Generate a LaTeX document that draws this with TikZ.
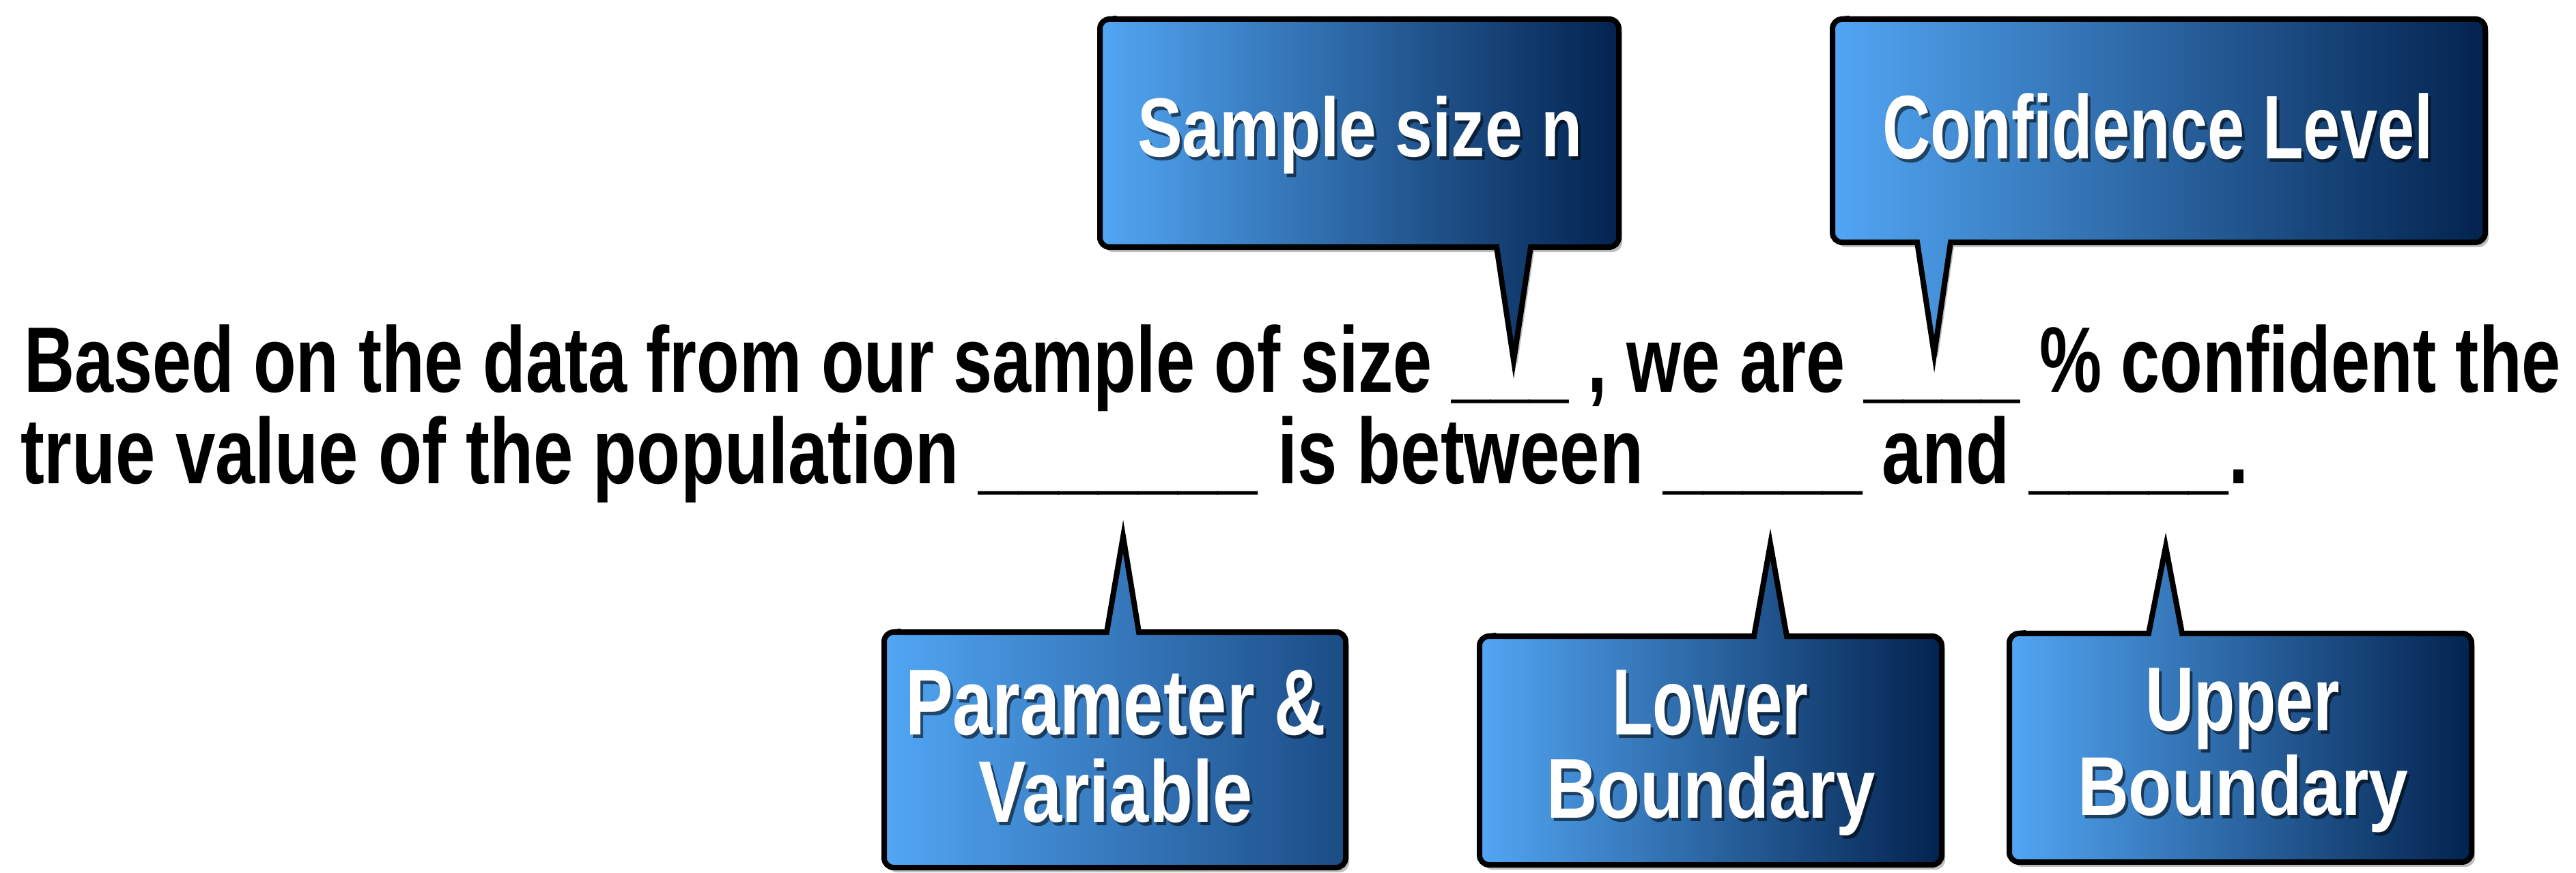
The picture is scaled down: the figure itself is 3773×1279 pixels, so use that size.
\documentclass[tikz,border=0pt]{standalone}
\usepackage{fontspec}
\usepackage{graphicx}
\setmainfont{Liberation Sans}
\definecolor{cLight}{HTML}{52A6F4}
\definecolor{cDark}{HTML}{03234F}
\definecolor{cMid}{HTML}{1B4C86}
\tikzset{
  cbox/.style={line width=0.08cm, draw=black, line join=miter},
  blurb/.style={inner sep=0pt, outer sep=0pt, font=\bfseries},
}
% L T R B b1 b2 tipx tipy  (tail below the box)
\newcommand\pathdown[8]{({#1+14},#2) -- ({#3-14},#2) arc[start angle=90,end angle=0,radius=0.14cm] -- (#3,{#4-14}) arc[start angle=0,end angle=-90,radius=0.14cm] -- (#6,#4) -- (#7,#8) -- (#5,#4) -- ({#1+14},#4) arc[start angle=270,end angle=180,radius=0.14cm] -- (#1,{#2+14}) arc[start angle=180,end angle=90,radius=0.14cm] -- cycle}
% tail above the box
\newcommand\pathup[8]{({#1+14},#2) -- (#5,#2) -- (#7,#8) -- (#6,#2) -- ({#3-14},#2) arc[start angle=90,end angle=0,radius=0.14cm] -- (#3,{#4-14}) arc[start angle=0,end angle=-90,radius=0.14cm] -- ({#1+14},#4) arc[start angle=270,end angle=180,radius=0.14cm] -- (#1,{#2+14}) arc[start angle=180,end angle=90,radius=0.14cm] -- cycle}
\newcommand\calloutdown[9]{%
  \fill[black,opacity=0.25,shift={(5,7)}] \pathdown{#1}{#2}{#3}{#4}{#5}{#6}{#7}{#8};
  \draw[cbox,left color=cLight,right color=#9] \pathdown{#1}{#2}{#3}{#4}{#5}{#6}{#7}{#8};
}
\newcommand\calloutup[9]{%
  \fill[black,opacity=0.25,shift={(5,7)}] \pathup{#1}{#2}{#3}{#4}{#5}{#6}{#7}{#8};
  \draw[cbox,left color=cLight,right color=#9] \pathup{#1}{#2}{#3}{#4}{#5}{#6}{#7}{#8};
}
% name, left x, bottom y, width, total height, text
\newcommand\btext[6]{%
  \node[blurb,anchor=south west,text=black,opacity=0.55] at ({#2+4},{#3+5}) {\resizebox*{#4}{#5}{#6}};
  \node[blurb,anchor=south west,text=white] (#1) at (#2,#3) {\resizebox*{#4}{#5}{#6}};
}
\begin{document}
\begin{tikzpicture}[x=0.01cm,y=-0.01cm]
\useasboundingbox (0,0) rectangle (3773,1279);
\fill[white] (0,0) rectangle (3773,1279);

% callout shapes
\calloutdown{1611}{28}{2371}{362}{2192}{2242}{2217}{528}{cDark}
\calloutdown{2684}{28}{3640}{355}{2808}{2857}{2833}{519}{cDark}
\calloutup{1295}{926}{1971}{1271}{1621}{1668}{1645}{786}{cMid}
\calloutup{2167}{932}{2844}{1267}{2569}{2617}{2593}{797}{cDark}
\calloutup{2943}{928}{3620}{1263}{3147}{3196}{3172}{801}{cDark}

% callout texts
\btext{tn}{1666}{255}{6.51cm}{1.14cm}{Sample size n}
\btext{tc}{2757}{234}{8.06cm}{0.97cm}{Confidence Level}
\btext{tp1}{1326}{1078}{6.16cm}{0.96cm}{Parameter \&}
\btext{tp2}{1433}{1206}{4.01cm}{0.94cm}{Variable}
\btext{tl1}{2361}{1078}{2.87cm}{0.96cm}{Lower}
\btext{tl2}{2265}{1224}{4.81cm}{1.16cm}{Boundary}
\btext{tu1}{3142}{1098}{2.85cm}{1.19cm}{Upper}
\btext{tu2}{3043}{1220}{4.84cm}{1.14cm}{Boundary}

% main sentence
\node[blurb,anchor=south west] (l1) at (35,603) {\resizebox*{37.13cm}{1.27cm}{Based on the data from our sample of size \_\_\_ , we are \_\_\_\_ \% confident the}};
\node[blurb,anchor=south west] (l2) at (30,737) {\resizebox*{32.61cm}{1.27cm}{true value of the population \_\_\_\_\_\_\_ is between \_\_\_\_\_ and \_\_\_\_\_.}};
\end{tikzpicture}
\end{document}
